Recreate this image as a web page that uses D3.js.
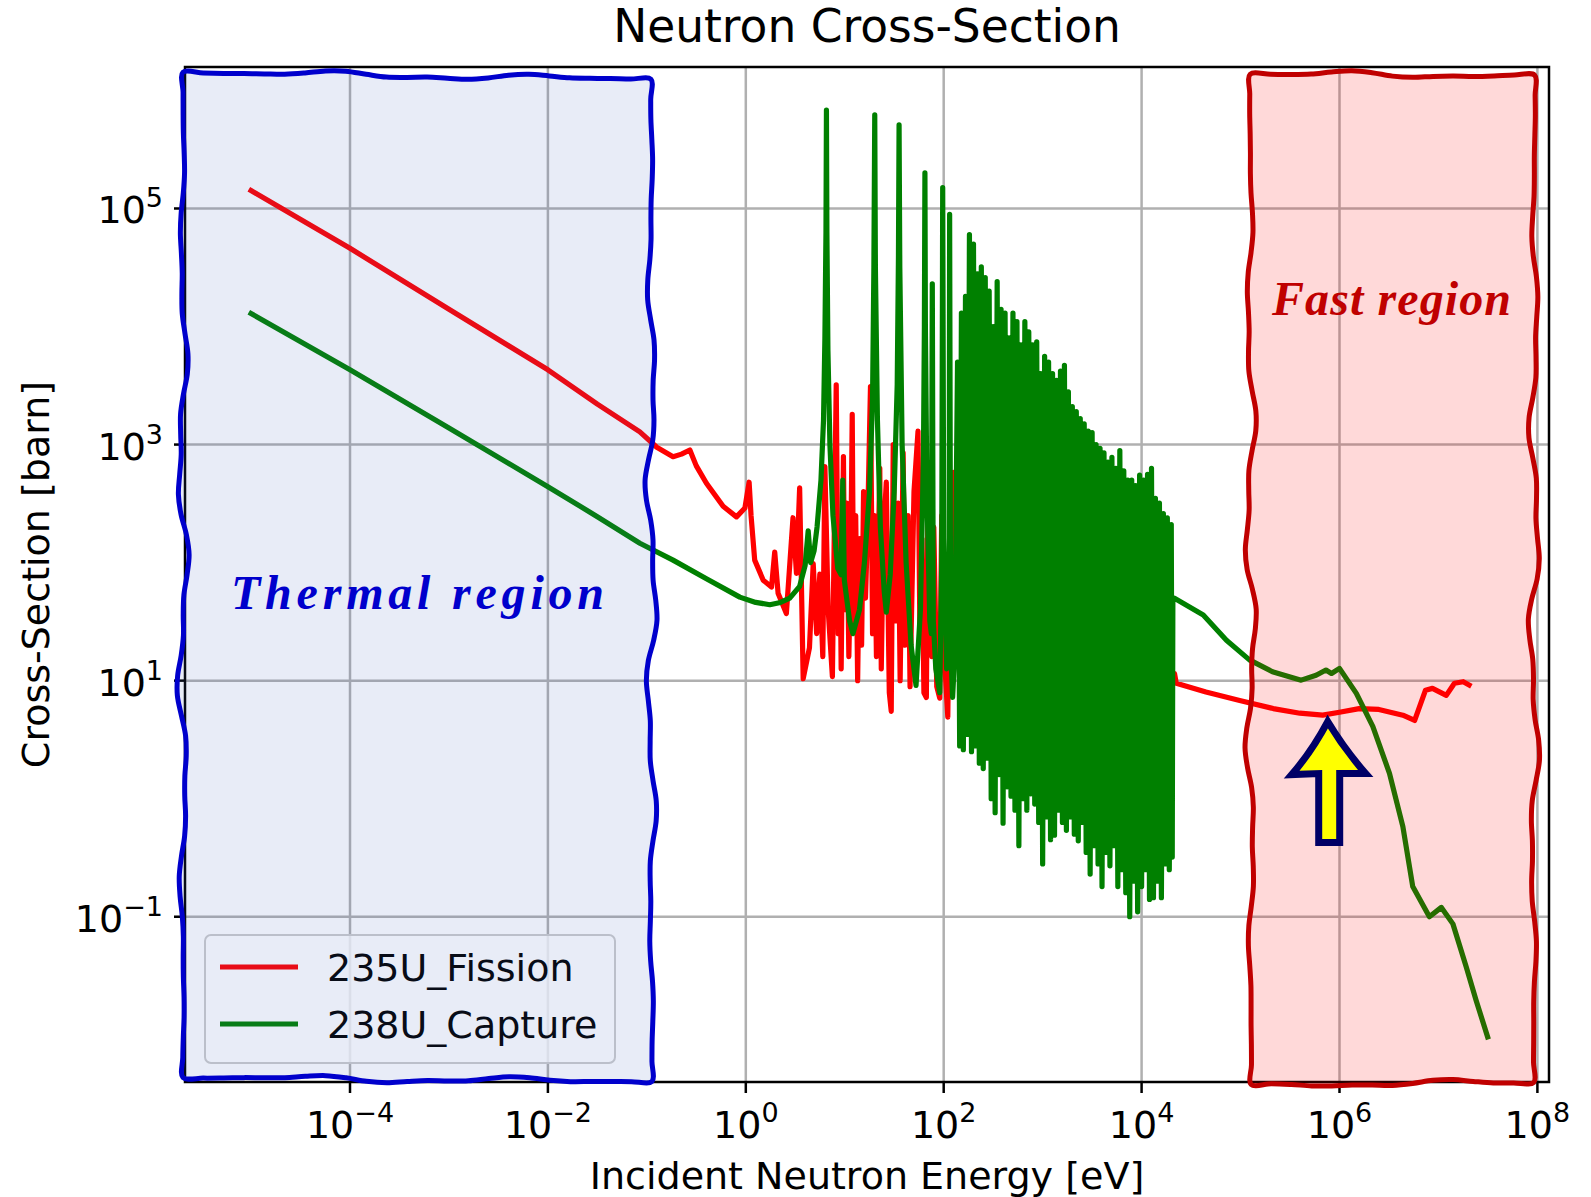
<!DOCTYPE html>
<html>
<head>
<meta charset="utf-8">
<script src="https://cdn.jsdelivr.net/npm/d3@7"></script>
<style>
  body { margin: 0; background: #fff; }
  svg text { font-family: "DejaVu Sans", sans-serif; fill: #000; }
</style>
</head>
<body>
<script>
// tick values on the two log axes
var energyTicks = [1e-4, 1e-2, 1e0, 1e2, 1e4, 1e6, 1e8];
var xsTicks = [1e-1, 1e1, 1e3, 1e5];

var seriesNames = ["235U_Fission", "238U_Capture"];
var seriesColors = ["#ff0000", "#008000"];

// 235U fission: [incident energy eV, cross-section barn]
var fission235 = [
  [1e-5, 1.42e5], [1e-4, 4.6e4], [1e-3, 1.4e4], [1e-2, 4.3e3], [0.0316, 2.2e3],
  [0.085, 1.28e3], [0.126, 950], [0.184, 790], [0.224, 830], [0.272, 900],
  [0.316, 660], [0.40, 470], [0.59, 300], [0.805, 244], [0.98, 290],
  [1.08, 480], [1.13, 250], [1.23, 105], [1.5, 71], [1.82, 62],
  [1.96, 123], [2.12, 55], [2.57, 37], [3.0, 240], [3.25, 81],
  [3.5, 430], [3.8, 10.4], [4.4, 19], [4.8, 98], [5.2, 25],
  [5.6, 80], [6.0, 16], [6.3, 650], [6.8, 40], [7.5, 10.8],
  [8.2, 3200], [8.6, 25], [8.9, 200], [9.2, 12.6], [9.7, 790],
  [10, 40], [10.5, 320], [11, 16], [11.5, 100], [11.9, 1800],
  [12.3, 32], [12.9, 250], [13.5, 10], [14.1, 160], [14.8, 20],
  [15.5, 400], [16.2, 50], [17.0, 200], [18.2, 3100], [19.1, 25],
  [20.0, 250], [20.9, 16], [22.6, 630], [23.4, 12.6], [24.5, 160],
  [26.3, 480], [28.2, 7.9], [29.5, 5.5], [30.9, 1000], [32.4, 32],
  [34.7, 320], [36.3, 10], [38.9, 850], [40.7, 20], [43.7, 250],
  [45.7, 8.9], [50.1, 400], [55.0, 1300], [57.5, 25], [60.3, 160],
  [63.1, 7.9], [66.8, 7.2], [69.2, 320], [72.4, 650], [75.9, 16],
  [79.4, 200], [85.1, 8.9], [91.2, 7.1], [95.5, 250], [100, 20],
  [110, 4.9], [117, 400], [126, 580], [135, 16], [148, 160],
  [166, 6.3], [182, 4.9], [200, 100], [316, 63], [501, 7.9],
  [1000, 40], [2000, 6.3], [3980, 20], [7940, 7.9], [15800, 16],
  [20400, 11.5], [21500, 11.5], [22400, 9.5], [44700, 8.0], [9.8e4, 6.8],
  [2.14e5, 5.8], [3.98e5, 5.3], [6.76e5, 5.1], [1.0e6, 5.4], [1.58e6, 5.8],
  [2.5e6, 5.7], [4.37e6, 5.1], [5.75e6, 4.6], [7.4e6, 8.3], [8.7e6, 8.6],
  [1.2e7, 7.5], [1.45e7, 9.5], [1.78e7, 9.8], [2.04e7, 9.2]
];

// 238U capture: [incident energy eV, cross-section barn]
var capture238 = [
  [1e-5, 1.29e4], [1e-4, 4.3e3], [1e-3, 1.38e3], [1e-2, 440], [0.0316, 245],
  [0.085, 146], [0.184, 105], [0.40, 73], [0.87, 51], [1.26, 46],
  [1.75, 44], [2.24, 46], [2.78, 50], [3.5, 63], [3.98, 95],
  [4.27, 186], [4.52, 100], [4.9, 126], [5.25, 200], [5.75, 500],
  [6.1, 1600], [6.3, 7900], [6.46, 6.3e4], [6.53, 6.8e5], [6.6, 6.3e4],
  [6.76, 6300], [7.08, 1000], [7.6, 250], [8.5, 89], [9.2, 79],
  [9.55, 500], [9.9, 71], [11.2, 32], [12.1, 25], [14.1, 40],
  [15.8, 100], [17.8, 400], [19.1, 2500], [19.7, 3.2e4], [20.1, 6.2e5],
  [20.4, 3.2e4], [21.4, 1600], [22.9, 200], [25.1, 56], [26.3, 38],
  [28.8, 79], [31.6, 400], [33.9, 3200], [34.9, 4.0e4], [35.4, 5.1e5],
  [36.0, 3.2e4], [38.0, 1000], [41.7, 100], [46.8, 20], [52.5, 9.1],
  [58.2, 40], [62.4, 790], [63.8, 1.0e4], [64.6, 2.0e5], [65.3, 1.0e4],
  [67.6, 400], [72.4, 32], [75.0, 25], [76.7, 2.3e4], [78.5, 32],
  [83.2, 12.6], [91.2, 7.9], [95.5, 100], [97.7, 1.5e5], [100, 160],
  [107, 12.6], [113.5, 32], [114.8, 8.9e4], [117.5, 20], [123, 7.2],
  [129, 16],
  // unresolved resonance forest
  [138, 5.0e3], [145, 2.8], [151, 1.3e4], [158, 2.6], [166, 1.8e4],
  [174, 3.5], [182, 6.0e4], [191, 2.5], [200, 5.0e4], [209, 2.8],
  [219, 2.8e4], [229, 2.0], [240, 3.2e4], [251, 1.8], [263, 2.6e4],
  [275, 2.2], [288, 2.0e4], [302, 1.0], [316, 1.0e4], [331, 0.76],
  [347, 2.4e4], [363, 1.6], [380, 1.4e4], [398, 0.62], [417, 1.3e4],
  [437, 1.26], [457, 8.0e3], [479, 1.05], [501, 1.3e4], [525, 0.8],
  [550, 1.1e4], [575, 0.4], [603, 7.0e3], [631, 1.0], [661, 1.1e4],
  [692, 0.8], [724, 9.0e3], [759, 1.1], [794, 7.0e3], [832, 0.9],
  [871, 7.4e3], [912, 0.63], [955, 4.0e3], [1000, 0.28], [1047, 5.6e3],
  [1096, 0.7], [1148, 5.0e3], [1202, 0.45], [1259, 4.0e3], [1318, 0.49],
  [1380, 3.5e3], [1445, 0.8], [1514, 4.2e3], [1585, 0.63], [1660, 4.7e3],
  [1738, 0.54], [1820, 2.8e3], [1905, 0.7], [1995, 2.1e3], [2089, 0.5],
  [2188, 1.9e3], [2291, 0.44], [2399, 1.66e3], [2512, 0.63], [2630, 1.5e3],
  [2754, 0.35], [2884, 1.3e3], [3020, 0.23], [3162, 1.26e3], [3311, 0.4],
  [3467, 1.0e3], [3631, 0.28], [3802, 930], [3981, 0.18], [4169, 850],
  [4365, 0.35], [4571, 710], [4786, 0.27], [5012, 780], [5248, 0.4],
  [5495, 630], [5754, 0.18], [6026, 890], [6310, 0.25], [6607, 600],
  [6918, 0.16], [7244, 500], [7586, 0.1], [7943, 500], [8318, 0.2],
  [8710, 450], [9120, 0.11], [9550, 550], [10000, 0.18], [10470, 500],
  [10960, 0.25], [11480, 560], [12020, 0.14], [12590, 630], [13180, 0.145],
  [13800, 350], [14450, 0.2], [15140, 320], [15850, 0.145], [16600, 260],
  [17380, 0.28], [18200, 240], [19050, 0.25], [19950, 210], [20400, 0.32],
  // smooth high-energy part
  [20700, 49], [2.15e4, 50], [4.2e4, 36], [7.2e4, 22], [1.23e5, 15],
  [2.1e5, 11.9], [4.1e5, 10.1], [5.8e5, 11.1], [7.3e5, 12.3], [8.3e5, 11.5],
  [1.0e6, 12.7], [1.48e6, 7.8], [2.17e6, 4.1], [3.2e6, 1.64], [4.37e6, 0.58],
  [5.5e6, 0.18], [8.1e6, 0.1], [1.07e7, 0.12], [1.4e7, 0.087], [1.9e7, 0.038],
  [2.4e7, 0.0196], [3.14e7, 0.0096]
];

// highlighted regions, energy bounds in eV
var thermalRegion = [2.05e-6, 0.11];
var fastRegion = [1.25e5, 9.4e7];
var regionXs = [4.1e-3, 1.4e6];
// the arrow points at the fission minimum in the fast region
var arrowTip = [7.6e5, 4.5];

window.onload = setChart;

function setChart(){
    var width = 1591, height = 1197;
    var left = 185, right = 1549, top = 67, bottom = 1082;
    var fs = 38;

    var svg = d3.select("body").append("svg")
        .attr("width", width)
        .attr("height", height);

    var x = d3.scaleLog().domain([2.15e-6, 1.31e8]).range([left, right]);
    var y = d3.scaleLog().domain([3.98e-3, 1.58e6]).range([bottom, top]);

    //grid
    var grid = svg.append("g").attr("stroke", "#b0b0b0").attr("stroke-width", 2.5);
    grid.selectAll(".vg").data(energyTicks).enter().append("line")
        .attr("x1", function(d){ return x(d); }).attr("x2", function(d){ return x(d); })
        .attr("y1", top).attr("y2", bottom);
    grid.selectAll(".hg").data(xsTicks).enter().append("line")
        .attr("y1", function(d){ return y(d); }).attr("y2", function(d){ return y(d); })
        .attr("x1", left).attr("x2", right);

    //curves, fission first so capture sits on top
    var line = d3.line()
        .x(function(d){ return x(d[0]); })
        .y(function(d){ return y(d[1]); });
    [fission235, capture238].forEach(function(s, i){
        svg.append("path")
            .datum(s)
            .attr("d", line)
            .attr("fill", "none")
            .attr("stroke", seriesColors[i])
            .attr("stroke-width", 5.2)
            .attr("stroke-linejoin", "round")
            .attr("stroke-linecap", "square");
    });

    //spines
    svg.append("rect")
        .attr("x", left).attr("y", top)
        .attr("width", right - left).attr("height", bottom - top)
        .attr("fill", "none").attr("stroke", "#000").attr("stroke-width", 2.5);

    //ticks + labels
    function expLabel(sel, v){
        var e = Math.round(Math.log10(v));
        sel.text("10");
        sel.append("tspan")
            .attr("dy", -16)
            .attr("font-size", 27)
            .text(e < 0 ? "\u2212" + (-e) : "" + e);
    }
    var xt = svg.append("g");
    energyTicks.forEach(function(v){
        xt.append("line")
            .attr("x1", x(v)).attr("x2", x(v))
            .attr("y1", bottom).attr("y2", bottom + 11)
            .attr("stroke", "#000").attr("stroke-width", 2.5);
        xt.append("text")
            .attr("x", x(v)).attr("y", 1138)
            .attr("text-anchor", "middle")
            .attr("font-size", fs)
            .call(expLabel, v);
    });
    var yt = svg.append("g");
    xsTicks.forEach(function(v){
        yt.append("line")
            .attr("x1", left - 11).attr("x2", left)
            .attr("y1", y(v)).attr("y2", y(v))
            .attr("stroke", "#000").attr("stroke-width", 2.5);
        yt.append("text")
            .attr("x", 163).attr("y", y(v) + 15)
            .attr("text-anchor", "end")
            .attr("font-size", fs)
            .call(expLabel, v);
    });

    //axis titles
    svg.append("text")
        .attr("x", (left + right) / 2).attr("y", 1189)
        .attr("text-anchor", "middle").attr("font-size", fs)
        .text("Incident Neutron Energy [eV]");
    svg.append("text")
        .attr("transform", "translate(49," + (top + bottom) / 2 + ") rotate(-90)")
        .attr("text-anchor", "middle").attr("font-size", fs)
        .text("Cross-Section [barn]");
    svg.append("text")
        .attr("x", (left + right) / 2).attr("y", 42)
        .attr("text-anchor", "middle").attr("font-size", 45.5)
        .text("Neutron Cross-Section");

    //legend
    var leg = svg.append("g");
    leg.append("rect")
        .attr("x", 205).attr("y", 935).attr("width", 410).attr("height", 128)
        .attr("rx", 6)
        .attr("fill", "#fff").attr("fill-opacity", 0.8)
        .attr("stroke", "#cccccc").attr("stroke-width", 2);
    seriesNames.forEach(function(name, i){
        var ly = 967 + i * 57;
        leg.append("line")
            .attr("x1", 220).attr("x2", 298)
            .attr("y1", ly).attr("y2", ly)
            .attr("stroke", seriesColors[i]).attr("stroke-width", 5.2);
        leg.append("text")
            .attr("x", 327).attr("y", ly + 14)
            .attr("font-size", fs)
            .text(name);
    });

    //hand drawn region boxes, sit over everything as in the original
    function wavy(corners, amp, seed){
        var pts = [];
        for (var e = 0; e < 4; e++){
            var a = corners[e], b = corners[(e + 1) % 4];
            var dx = b[0] - a[0], dy = b[1] - a[1], len = Math.hypot(dx, dy);
            var nx = -dy / len, ny = dx / len;
            var n = Math.max(4, Math.round(len / 20));
            var k = e % 2 === 1 ? 1.5 : 1;   // sides wobble a bit more
            for (var i = 0; i < n; i++){
                var t = i / n;
                var w = amp * k * Math.sin(Math.PI * t) *
                    (0.65 * Math.sin(t * len / 34 + seed + e * 1.7) + 0.35 * Math.sin(t * len / 15 + 2 * seed - e));
                pts.push([a[0] + dx * t + nx * w, a[1] + dy * t + ny * w]);
            }
        }
        return d3.line().curve(d3.curveCatmullRomClosed)(pts);
    }

    var tx0 = x(thermalRegion[0]), tx1 = x(thermalRegion[1]);
    var fx0 = x(fastRegion[0]), fx1 = x(fastRegion[1]);
    var ry0 = y(regionXs[1]), ry1 = y(regionXs[0]);

    svg.append("path")
        .attr("d", wavy([[tx0, ry0 - 1], [tx1, ry0 + 6], [tx1 + 1, ry1 + 1], [tx0, ry1 - 3]], 4.5, 0.4))
        .attr("fill", "#4060c0").attr("fill-opacity", 0.12)
        .attr("stroke", "#0000cc").attr("stroke-width", 5)
        .attr("stroke-linejoin", "round");
    svg.append("path")
        .attr("d", wavy([[fx0, ry0 + 1], [fx1, ry0 + 2], [fx1 - 1, ry1 + 2], [fx0 + 1, ry1 + 4]], 4.5, 2.1))
        .attr("fill", "#ff0000").attr("fill-opacity", 0.15)
        .attr("stroke", "#c00000").attr("stroke-width", 5)
        .attr("stroke-linejoin", "round");

    svg.append("text")
        .attr("x", 231).attr("y", 609)
        .attr("textLength", 373).attr("lengthAdjust", "spacing")
        .style("font-family", "'Liberation Serif', serif")
        .style("font-weight", "bold").style("font-style", "italic")
        .style("font-size", "48px").style("fill", "#0000cc")
        .text("Thermal region");
    svg.append("text")
        .attr("x", 1272).attr("y", 315)
        .attr("textLength", 239).attr("lengthAdjust", "spacing")
        .style("font-family", "'Liberation Serif', serif")
        .style("font-weight", "bold").style("font-style", "italic")
        .style("font-size", "48px").style("fill", "#c00000")
        .text("Fast region");

    //yellow arrow
    var ax = x(arrowTip[0]), ay = y(arrowTip[1]);
    svg.append("path")
        .attr("transform", "translate(" + ax + "," + ay + ")")
        .attr("d", "M0,0 Q17,28 38,52 L12,52 L12,121 L-9,121 L-9,52 L-36,53 Q-16,30 0,0 Z")
        .attr("fill", "#ffff00")
        .attr("stroke", "#000066").attr("stroke-width", 7)
        .attr("stroke-linejoin", "miter");
}
</script>
</body>
</html>
